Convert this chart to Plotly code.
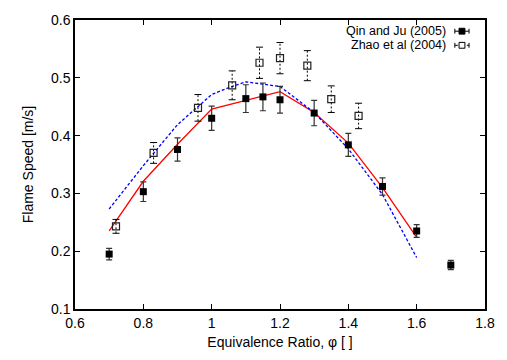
import plotly.graph_objects as go

# Qin and Ju (2005) - filled squares with solid error bars
qin_x = [0.7, 0.8, 0.9, 1.0, 1.1, 1.15, 1.2, 1.3, 1.4, 1.5, 1.6, 1.7]
qin_y = [0.195, 0.303, 0.376, 0.430, 0.464, 0.467, 0.462, 0.439, 0.384, 0.312, 0.235, 0.176]
qin_err = [0.010, 0.017, 0.020, 0.021, 0.024, 0.024, 0.023, 0.022, 0.020, 0.015, 0.011, 0.008]

# Zhao et al (2004) - open squares with dashed error bars
zhao_x = [0.72, 0.83, 0.96, 1.06, 1.14, 1.20, 1.28, 1.35, 1.43]
zhao_y = [0.243, 0.370, 0.448, 0.487, 0.526, 0.534, 0.521, 0.463, 0.434]
zhao_err = [0.012, 0.018, 0.023, 0.025, 0.027, 0.027, 0.026, 0.023, 0.022]

# Model curves
red_x = [0.7, 0.8, 0.9, 1.0, 1.1, 1.2, 1.3, 1.4, 1.5, 1.6]
red_y = [0.235, 0.321, 0.385, 0.446, 0.461, 0.476, 0.440, 0.387, 0.310, 0.224]
blue_x = [0.7, 0.8, 0.9, 1.0, 1.05, 1.1, 1.15, 1.2, 1.3, 1.4, 1.5, 1.6]
blue_y = [0.273, 0.348, 0.419, 0.471, 0.483, 0.493, 0.489, 0.485, 0.440, 0.377, 0.298, 0.189]

x_ticks = [0.6, 0.8, 1.0, 1.2, 1.4, 1.6, 1.8]
y_ticks = [0.1, 0.2, 0.3, 0.4, 0.5, 0.6]

FONT = "Liberation Sans, Arial, sans-serif"

fig = go.Figure()

fig.add_trace(go.Scatter(x=red_x, y=red_y, mode="lines",
                         line=dict(color="#ff0000", width=1.3), showlegend=False))
fig.add_trace(go.Scatter(x=blue_x, y=blue_y, mode="lines",
                         line=dict(color="#0000ff", width=1.3, dash="3px,2px"), showlegend=False))

# Zhao dashed error bars
ex, ey = [], []
for x, y, e in zip(zhao_x, zhao_y, zhao_err):
    ex += [x, x, None]
    ey += [y - e, y + e, None]
fig.add_trace(go.Scatter(x=ex, y=ey, mode="lines",
                         line=dict(color="#000000", width=1, dash="2px,2px"), showlegend=False))
cx, cy = [], []
for x, y, e in zip(zhao_x, zhao_y, zhao_err):
    cx += [x, x]
    cy += [y - e, y + e]
fig.add_trace(go.Scatter(x=cx, y=cy, mode="markers",
                         marker=dict(symbol="line-ew", size=5, line=dict(color="#000000", width=1)),
                         showlegend=False))
fig.add_trace(go.Scatter(x=zhao_x, y=zhao_y, mode="markers",
                         marker=dict(symbol="square-open", size=7, color="#222222",
                                     line=dict(width=1.2)),
                         showlegend=False))

fig.add_trace(go.Scatter(x=qin_x, y=qin_y, mode="markers",
                         marker=dict(symbol="square", size=7, color="#000000"),
                         error_y=dict(type="data", array=qin_err, visible=True,
                                      color="#333333", thickness=1.2, width=3),
                         showlegend=False))

# Legend (gnuplot style: text right, sample at right)
L, T = 74.7, 17.5
W, H = 418.6, 297.0
def px(xp):
    return (xp - L) / W
def py(yp):
    return (T + H - yp) / H

shapes = []
for row, (label, dash, filled) in enumerate([("Qin and Ju (2005)", "solid", True),
                                             ("Zhao et al (2004)", "dot", False)]):
    yy = 29.0 + row * 14.5
    fig.add_annotation(x=px(454), y=py(yy), xref="paper", yref="paper", text=label,
                       showarrow=False, xanchor="right", yanchor="middle",
                       font=dict(family=FONT, size=12.5, color="#000000"),
                       borderpad=0)
    shapes.append(dict(type="line", xref="paper", yref="paper",
                       x0=px(462.5), x1=px(477), y0=py(yy), y1=py(yy),
                       line=dict(color="#000000", width=1, dash=dash)))
    for xe in (462.5, 477):
        shapes.append(dict(type="line", xref="paper", yref="paper",
                           x0=px(xe), x1=px(xe), y0=py(yy - 2.5), y1=py(yy + 2.5),
                           line=dict(color="#000000", width=1)))
    shapes.append(dict(type="rect", xref="paper", yref="paper",
                       x0=px(466.8), x1=px(472.8), y0=py(yy - 3), y1=py(yy + 3),
                       fillcolor="#000000" if filled else "#ffffff",
                       line=dict(color="#000000", width=1)))

fig.update_layout(
    width=507, height=360,
    margin=dict(l=75, r=14, t=17, b=46),
    paper_bgcolor="white", plot_bgcolor="white",
    font=dict(family=FONT, size=14, color="#000000"),
    shapes=shapes,
    showlegend=False,
)
fig.update_xaxes(range=[0.6, 1.8], tickvals=x_ticks, ticks="inside", ticklen=5,
                 showgrid=False, zeroline=False, showline=True, linecolor="#000000",
                 linewidth=1.5, mirror="ticks", tickcolor="#000000",
                 title=dict(text="Equivalence Ratio, φ [ ]", standoff=8,
                            font=dict(size=14)))
fig.update_yaxes(range=[0.1, 0.6], tickvals=y_ticks, ticks="inside", ticklen=5,
                 showgrid=False, zeroline=False, showline=True, linecolor="#000000",
                 linewidth=1.5, mirror="ticks", tickcolor="#000000",
                 tickformat=".1f",
                 title=dict(text="Flame Speed [m/s]", standoff=14, font=dict(size=14)))

fig.write_html("out.html")
